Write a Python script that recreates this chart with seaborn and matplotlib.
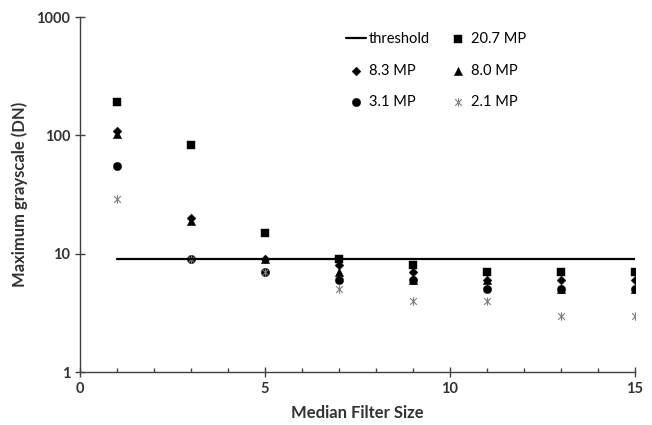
import matplotlib
matplotlib.use("Agg")
import matplotlib.pyplot as plt
from matplotlib.path import Path
from matplotlib.ticker import MultipleLocator
import seaborn as sns
import pandas as pd

filter_sizes = [1, 3, 5, 7, 9, 11, 13, 15]
mp_20_7 = [190, 83, 15, 9, 8, 7, 7, 7]
mp_8_3 = [110, 20, 9, 8, 7, 6, 6, 6]
mp_8_0 = [102, 19, 9, 7, 6, 6, 5, 5]
mp_3_1 = [55, 9, 7, 6, 6, 5, 5, 5]
mp_2_1 = [29, 9, 7, 5, 4, 4, 3, 3]
threshold_x = [1, 15]
threshold_y = [9, 9]

sns.set_theme(style="white")
plt.rcParams['font.family'] = ['Lato', 'DejaVu Sans']

fig = plt.figure(figsize=(6.52, 4.25), dpi=100)
ax = fig.add_axes([0.1227, 0.1247, 0.851, 0.835])

star = Path([(0, -1), (0, 1), (-0.8, -0.8), (0.8, 0.8), (-0.8, 0.8), (0.8, -0.8)],
            [Path.MOVETO, Path.LINETO, Path.MOVETO, Path.LINETO, Path.MOVETO, Path.LINETO])

txt = "#333333"
sns.lineplot(x=threshold_x, y=threshold_y, ax=ax, color="black", linewidth=1.6,
             label="threshold")

series = [
    ("20.7 MP", mp_20_7, "s", "black", 6),
    ("8.3 MP", mp_8_3, "D", "black", 4.5),
    ("8.0 MP", mp_8_0, "^", "black", 6),
    ("3.1 MP", mp_3_1, "o", "black", 6),
    ("2.1 MP", mp_2_1, star, "#7f7f7f", 6),
]
for name, vals, m, c, s in series:
    df = pd.DataFrame({"x": filter_sizes, "y": vals})
    sns.scatterplot(data=df, x="x", y="y", ax=ax, marker=m, color=c,
                    s=s ** 2, edgecolor=c, linewidth=0.8 if m is star else 0.3,
                    label=name)

ax.set_yscale("log")
ax.set_ylim(1, 1000)
ax.set_xlim(0, 15)
ax.set_xticks([0, 5, 10, 15])
ax.set_yticks([1, 10, 100, 1000])
ax.set_yticklabels(["1", "10", "100", "1000"])
ax.minorticks_off()
ax.xaxis.set_minor_locator(MultipleLocator(1))
ax.tick_params(axis="both", which="major", direction="inout", length=7, width=1,
               color="#404040", labelsize=10.5, labelcolor=txt, left=True, bottom=True)
ax.tick_params(axis="x", which="minor", direction="in", length=3, width=1,
               color="#404040", bottom=True)
for lab in ax.get_xticklabels() + ax.get_yticklabels():
    lab.set_fontweight("bold")
for sp in ["top", "right"]:
    ax.spines[sp].set_visible(False)
for sp in ["left", "bottom"]:
    ax.spines[sp].set_color("#404040")
    ax.spines[sp].set_linewidth(1)

ax.set_xlabel("Median Filter Size", fontsize=12, fontweight="bold", color=txt, labelpad=7)
ax.set_ylabel("Maximum grayscale (DN)", fontsize=12, fontweight="bold", color=txt, labelpad=6)

h, l = ax.get_legend_handles_labels()
d = dict(zip(l, h))
order = ["threshold", "8.3 MP", "3.1 MP", "20.7 MP", "8.0 MP", "2.1 MP"]
leg = ax.legend([d[k] for k in order], order, ncol=2, frameon=False,
                loc="upper left", bbox_to_anchor=(0.455, 0.995),
                labelspacing=1.2, columnspacing=1.2, handlelength=1.4,
                handletextpad=0.2, fontsize=10.5)
for t in leg.get_texts():
    t.set_color("black")

fig.savefig("out.png", dpi=100)
